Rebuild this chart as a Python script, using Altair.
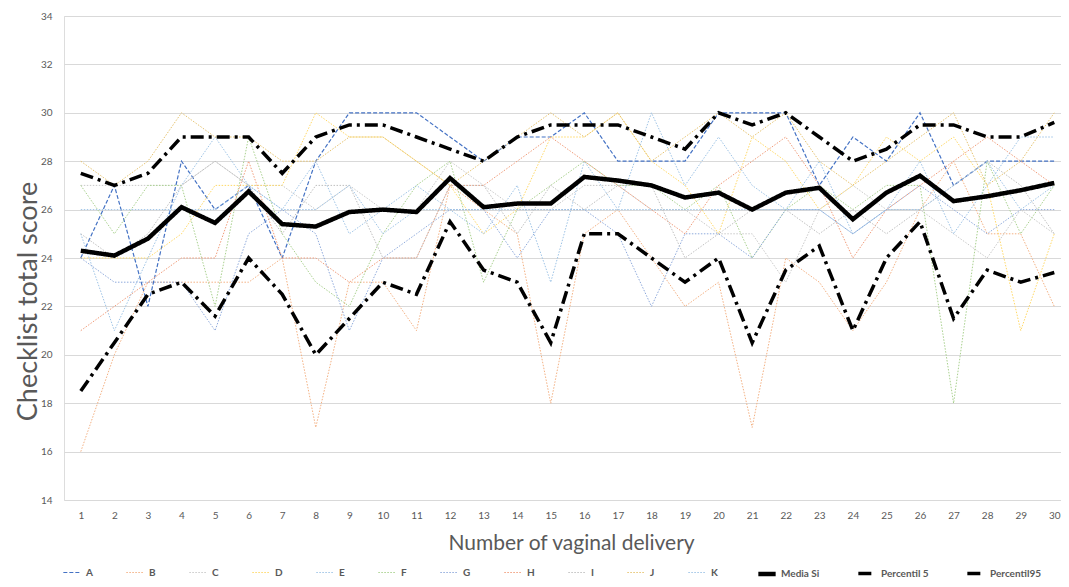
import altair as alt
import pandas as pd

deliveries = list(range(1, 31))

series_names = ["A", "B", "C", "D", "E", "F", "G", "H", "I", "J", "K",
                "Media Si", "Percentil 5", "Percentil95"]

A = [24, 27, 22, 28, 26, 27, 24, 28, 30, 30, 30, 29, 28, 29, 29, 30, 28, 28, 28, 30, 30, 30, 27, 29, 28, 30, 27, 28, 28, 28]
B = [16, 20, 23, 23, 23, 23, 24, 17, 23, 23, 21, 27, 26, 25, 18, 25, 26, 24, 22, 23, 17, 24, 23, 21, 23, 26, 28, 25, 25, 22]
C = [27, 27, 27, 27, 28, 27, 27, 26, 27, 26, 26, 28, 27, 26, 26, 27, 27, 26, 26, 25, 25, 23, 26, 27, 26, 26, 25, 24, 26, 25]
D = [24, 24, 24, 25, 27, 27, 27, 30, 29, 29, 28, 27, 25, 26, 29, 29, 30, 28, 27, 25, 29, 28, 26, 27, 29, 28, 29, 27, 21, 25]
E = [25, 21, 24, 27, 29, 27, 26, 28, 25, 26, 27, 26, 25, 27, 23, 28, 26, 30, 27, 29, 27, 26, 28, 25, 26, 28, 25, 27, 29, 29]
F = [27, 25, 27, 27, 22, 29, 25, 23, 22, 25, 27, 28, 23, 26, 27, 28, 27, 27, 26, 27, 24, 26, 27, 26, 27, 27, 18, 28, 25, 27]
G = [24, 23, 23, 23, 21, 25, 26, 25, 21, 24, 25, 26, 26, 24, 26, 26, 25, 22, 25, 25, 24, 26, 26, 25, 26, 27, 26, 25, 26, 26]
H = [21, 22, 23, 24, 24, 28, 24, 24, 23, 24, 24, 27, 27, 28, 29, 28, 27, 26, 25, 27, 28, 29, 27, 24, 26, 27, 28, 29, 28, 27]
I = [25, 24, 25, 27, 28, 27, 25, 27, 27, 24, 24, 27, 27, 25, 27, 26, 27, 27, 24, 25, 26, 26, 25, 26, 25, 26, 27, 28, 27, 25]
J = [28, 27, 28, 30, 29, 29, 28, 28, 29, 29, 28, 27, 28, 29, 30, 29, 30, 28, 29, 30, 29, 30, 28, 27, 28, 29, 30, 27, 28, 30]
K = [26, 26, 26, 26, 26, 27, 26, 26, 27, 25, 26, 26, 26, 26, 26, 26, 26, 26, 26, 26, 26, 26, 26, 25, 26, 26, 27, 28, 26, 27]
media_si = [24.3, 24.1, 24.8, 26.1, 25.45, 26.75, 25.4, 25.3, 25.9, 26.0, 25.9, 27.3, 26.1, 26.25, 26.25,
            27.35, 27.2, 27.0, 26.5, 26.7, 26.0, 26.7, 26.9, 25.6, 26.7, 27.4, 26.35, 26.55, 26.8, 27.1]
percentil_5 = [18.5, 20.5, 22.5, 23, 21.6, 24, 22.5, 20, 21.5, 23, 22.5, 25.5, 23.5, 23, 20.5,
               25, 25, 24, 23, 24, 20.5, 23.5, 24.5, 21, 24, 25.5, 21.5, 23.5, 23, 23.4]
percentil_95 = [27.5, 27, 27.5, 29, 29, 29, 27.5, 29, 29.5, 29.5, 29, 28.5, 28, 29, 29.5,
                29.5, 29.5, 29, 28.5, 30, 29.5, 30, 29, 28, 28.5, 29.5, 29.5, 29, 29, 29.6]

all_values = [A, B, C, D, E, F, G, H, I, J, K, media_si, percentil_5, percentil_95]

colors = ["#4472C4", "#F4B183", "#C9C9C9", "#FFD966", "#9DC3E6", "#A9D18E", "#8FAADC",
          "#F19C7A", "#BFBFBF", "#E6C36F", "#9DC3E6", "#000000", "#000000", "#000000"]
dashes = [[4, 2]] + [[1.5, 1.5]] * 10 + [[1, 0], [13, 5, 3, 5], [13, 5, 3, 5]]
widths = [1.2] + [1.0] * 10 + [4.5, 3.5, 3.5]

rows = []
for name, vals in zip(series_names, all_values):
    for d, v in zip(deliveries, vals):
        rows.append({"delivery": d, "score": v, "series": name})
df = pd.DataFrame(rows)

FONT = "Lato"
GREY = "#595959"

x_enc = alt.X("delivery:Q",
              scale=alt.Scale(domain=[0.5, 30.2], nice=False, zero=False),
              axis=alt.Axis(values=deliveries, grid=False, domain=False, ticks=False,
                            labelPadding=10, labelFontSize=10, labelColor=GREY, labelFont=FONT,
                            title="Number of vaginal delivery", titleFontSize=21,
                            titleFontWeight="normal", titleColor=GREY, titleFont=FONT,
                            titlePadding=12, titleX=507))
y_enc = alt.Y("score:Q",
              scale=alt.Scale(domain=[14, 34], nice=False, zero=False),
              axis=alt.Axis(values=list(range(14, 35, 2)), grid=True, gridColor="#d9d9d9",
                            gridWidth=1, domain=False, ticks=False, labelPadding=12,
                            labelFontSize=10, labelColor=GREY, labelFont=FONT,
                            title="Checklist total score", titleFontSize=27,
                            titleFontWeight="normal", titleColor=GREY, titleFont=FONT,
                            titleX=-22, titleY=285, titleAngle=270, titleBaseline="bottom",
                            titleAlign="center"))

legend = alt.Legend(orient="none", legendX=-3, legendY=547, direction="horizontal",
                    columns=14, gridAlign="none", columnPadding=31, title=None,
                    symbolType="stroke", symbolSize=300, labelFontSize=10,
                    labelFontWeight="bold", labelColor=GREY, labelFont=FONT,
                    labelOffset=3)

color_enc = alt.Color("series:N", scale=alt.Scale(domain=series_names, range=colors),
                      legend=legend, sort=series_names)
dash_enc = alt.StrokeDash("series:N",
                          scale=alt.Scale(type="ordinal", domain=series_names, range=dashes),
                          legend=legend, sort=series_names)
width_enc = alt.StrokeWidth("series:N",
                            scale=alt.Scale(type="ordinal", domain=series_names, range=widths),
                            legend=legend, sort=series_names)

base = alt.Chart(df).encode(x=x_enc, y=y_enc, color=color_enc,
                            strokeDash=dash_enc, strokeWidth=width_enc)

thin = base.transform_filter(
    alt.FieldOneOfPredicate(field="series", oneOf=series_names[:11])
).mark_line()
thick = base.transform_filter(
    alt.FieldOneOfPredicate(field="series", oneOf=series_names[11:])
).mark_line()

chart = alt.layer(thin, thick).properties(
    width=997, height=484,
    autosize=alt.AutoSizeParams(type="none"),
    padding={"left": 56, "top": 8, "right": 0, "bottom": 79},
).configure_view(stroke=None).configure(background="white")

chart.save("out.html", embed_options={"renderer": "svg", "actions": False})
